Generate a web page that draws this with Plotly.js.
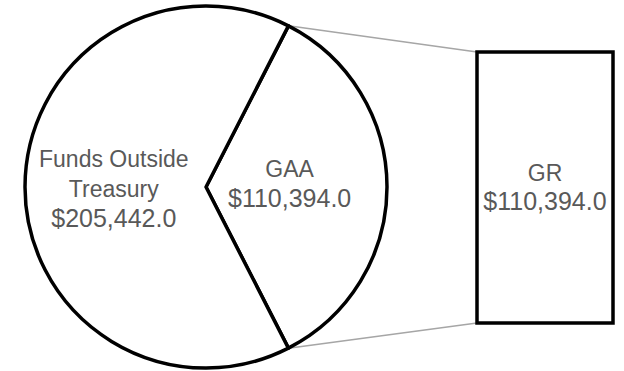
<!DOCTYPE html>
<html>
<head>
<meta charset="utf-8">
<script src="https://cdn.plot.ly/plotly-3.0.1.min.js"></script>
<style>
  html, body { margin: 0; padding: 0; background: #fff; }
  #chart { width: 624px; height: 371px; }
</style>
</head>
<body>
<div id="chart"></div>
<script>
// pie slices
var pieLabels = ['GAA', 'Funds Outside<br>Treasury'];
var pieValues = [110394.0, 205442.0];
// breakdown bar
var barLabels = ['GR'];
var barValues = [110394.0];

var W = 624, H = 371;
var pieDomX = [25 / W, 387 / W];
var pieDomY = [1 - 368 / H, 1 - 6 / H];
// bar box in pixels: left, right, top, bottom
var box = [477, 613, 52, 323];
var pad = 4; // room so the outline is not clipped

var font = '"Liberation Sans", Arial, sans-serif';
var txtColor = '#595959';
var txtSize = 23;
var valSpan = '<span style="font-size:25px">';

// GAA slice centred on 3 o'clock
var total = pieValues[0] + pieValues[1];
var halfDeg = pieValues[0] / total * 180;

var pie = {
  type: 'pie',
  labels: pieLabels,
  values: pieValues,
  sort: false,
  direction: 'clockwise',
  rotation: 90 - halfDeg,
  domain: {x: pieDomX, y: pieDomY},
  marker: {colors: ['#ffffff', '#ffffff'], line: {color: '#000000', width: 3.5}},
  textinfo: 'none',
  hoverinfo: 'none',
  showlegend: false
};

var bar = {
  type: 'bar',
  x: barLabels,
  y: barValues,
  width: 1,
  marker: {color: '#ffffff', line: {color: '#000000', width: 3.5}},
  texttemplate: '%{x}<br>' + valSpan + '$%{y:,.1f}</span>',
  textposition: 'inside',
  insidetextanchor: 'middle',
  constraintext: 'none',
  textfont: {family: font, size: txtSize, color: txtColor},
  hoverinfo: 'none',
  showlegend: false
};

// bar axes padded a little beyond the box
var bw = box[1] - box[0], bh = box[3] - box[2];
var xDom = [(box[0] - pad) / W, (box[1] + pad) / W];
var yDom = [1 - (box[3] + pad) / H, 1 - (box[2] - pad) / H];
var xRange = [-0.5 - pad / bw, 0.5 + pad / bw];
var yRange = [-barValues[0] * pad / bh, barValues[0] * (1 + pad / bh)];

// pie geometry in pixels
var cx = (pieDomX[0] + pieDomX[1]) / 2 * W;
var cy = (1 - (pieDomY[0] + pieDomY[1]) / 2) * H;
var r = (pieDomY[1] - pieDomY[0]) * H / 2;
var a = halfDeg * Math.PI / 180;

// slice labels placed along each slice's bisector
var annotations = [];
var mids = [0, Math.PI];
var dist = [0.46, 0.51];
var dy = [-3, 2];
for (var i = 0; i < pieValues.length; i++) {
  annotations.push({
    xref: 'paper', yref: 'paper',
    x: (cx + dist[i] * r * Math.cos(mids[i])) / W,
    y: 1 - (cy + dy[i]) / H,
    text: pieLabels[i] + '<br>' + valSpan + '$' +
          pieValues[i].toLocaleString('en-US', {minimumFractionDigits: 1}) + '</span>',
    showarrow: false,
    xanchor: 'center', yanchor: 'middle',
    font: {family: font, size: txtSize, color: txtColor}
  });
}

// connector lines from slice edges to bar corners
var px = (cx + r * Math.cos(a)) / W;
var pyTop = 1 - (cy - r * Math.sin(a)) / H;
var pyBot = 1 - (cy + r * Math.sin(a)) / H;

var shapes = [
  {type: 'line', xref: 'paper', yref: 'paper', x0: px, y0: pyTop, x1: box[0] / W, y1: 1 - box[2] / H,
   line: {color: '#a6a6a6', width: 1.5}, layer: 'below'},
  {type: 'line', xref: 'paper', yref: 'paper', x0: px, y0: pyBot, x1: box[0] / W, y1: 1 - box[3] / H,
   line: {color: '#a6a6a6', width: 1.5}, layer: 'below'}
];

var layout = {
  width: W,
  height: H,
  margin: {l: 0, r: 0, t: 0, b: 0},
  paper_bgcolor: '#ffffff',
  plot_bgcolor: 'rgba(0,0,0,0)',
  xaxis: {domain: xDom, range: xRange, visible: false, fixedrange: true},
  yaxis: {domain: yDom, range: yRange, visible: false, fixedrange: true},
  shapes: shapes,
  annotations: annotations,
  font: {family: font}
};

Plotly.newPlot('chart', [bar, pie], layout, {displayModeBar: false, staticPlot: true});
</script>
</body>
</html>
